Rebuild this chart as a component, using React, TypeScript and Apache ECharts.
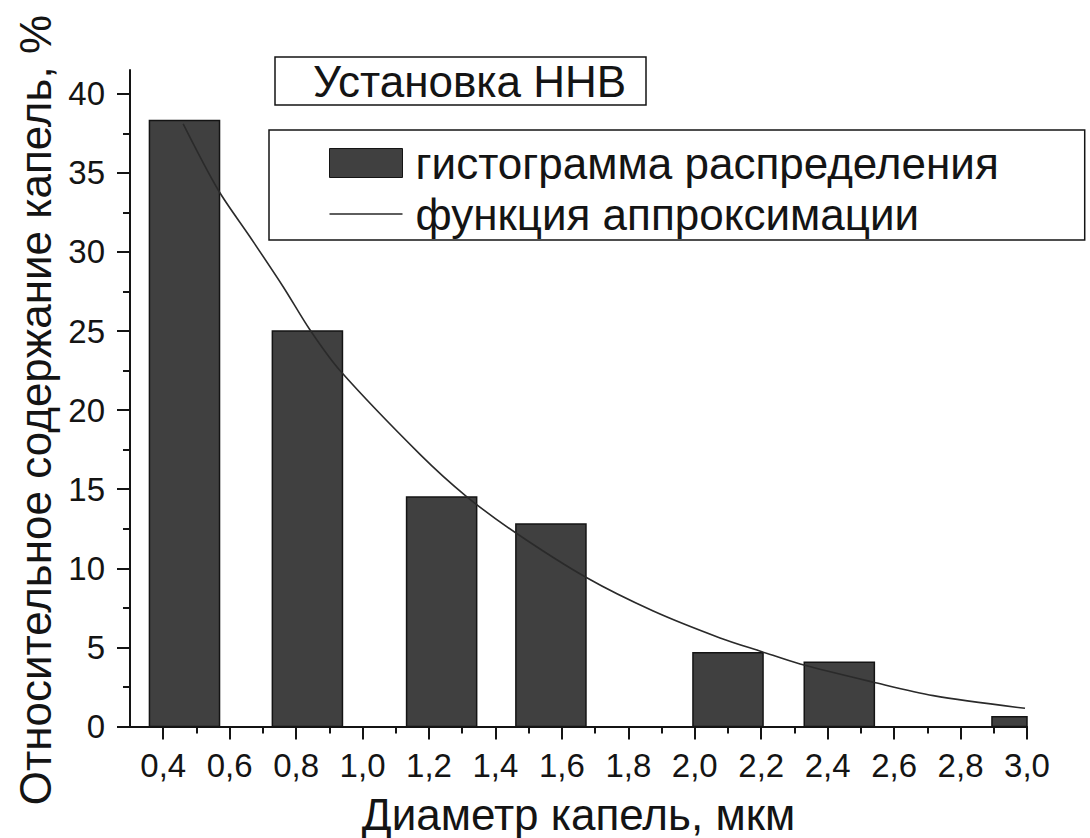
import { useEffect, useRef } from "react";
import * as echarts from "echarts";

// Histogram of droplet diameters (bin centres, µm) and their relative share (%)
const binCenters = [0.464, 0.834, 1.238, 1.567, 2.1, 2.435, 3.0];
const binWidth = 0.211;
const shares = [38.3, 25.0, 14.5, 12.8, 4.66, 4.06, 0.62];

// Approximating function, sampled along the diameter axis
const fitX = [0.46, 0.566, 0.661, 0.761, 0.842, 0.932, 1.173, 1.314, 1.464, 1.675, 1.875, 2.076, 2.202, 2.317, 2.538, 2.718, 2.994];
const fitY = [38.1, 33.9, 30.96, 27.8, 25.06, 22.5, 17.2, 14.52, 12.2, 9.4, 7.3, 5.6, 4.73, 3.95, 2.8, 1.95, 1.15];

const xTickStep = 0.2;
const yTickStep = 5;

const histName = "гистограмма распределения";
const fitName = "функция аппроксимации";

const FONT = "'Liberation Sans', Arial, sans-serif";
const INK = "#141414";

// Thin horizontal stroke used as the legend mark of the fitted curve
// (two invisible specks fix the bounding box so the stroke is not stretched)
const LINE_ICON = "path://M0,0h0.01v0.01h-0.01z M73,29h-0.01v-0.01h0.01z M0,13.7h73v1.6h-73z";

// Plot frame in pixels
const W = 1090;
const H = 838;
const PLOT_L = 130;
const PLOT_R = 1027;
const PLOT_T = 70;
const PLOT_B = 726.5;
const X_MIN = 0.3;
const X_MAX = 3.0;
const Y_MAX = 41.5;
const TICK_X_MIN = 0.4;
const TICK_Y_MAX = 40;

export default function App() {
  const ref = useRef<HTMLDivElement>(null);

  useEffect(() => {
    if (!ref.current) return;
    const chart = echarts.init(ref.current, null, { renderer: "svg" });

    const pxPerX = (PLOT_R - PLOT_L) / (X_MAX - X_MIN);
    const pxPerY = (PLOT_B - PLOT_T) / Y_MAX;
    const tickGridLeft = PLOT_L + (TICK_X_MIN - X_MIN) * pxPerX;
    const tickGridTop = PLOT_B - TICK_Y_MAX * pxPerY;

    const bins = binCenters.map((c, i) => [c - binWidth / 2, c + binWidth / 2, shares[i]]);
    const fit = fitX.map((x, i) => [x, fitY[i]]);

    chart.setOption({
      animation: false,
      backgroundColor: "#ffffff",
      textStyle: { fontFamily: FONT, color: INK },
      title: {
        text: "Установка ННВ",
        left: 275,
        top: 57,
        padding: [2, 20, 2, 38],
        borderColor: INK,
        borderWidth: 1.5,
        textStyle: { fontSize: 44, fontWeight: "normal", lineHeight: 44, color: INK, fontFamily: FONT },
      },
      legend: {
        orient: "vertical",
        left: 269,
        top: 130,
        padding: [9, 86, 2, 60],
        itemGap: 3,
        itemWidth: 73,
        itemHeight: 29,
        borderColor: INK,
        borderWidth: 1.5,
        textStyle: { fontSize: 44, lineHeight: 48, color: INK, fontFamily: FONT, padding: [0, 0, 0, 8] },
        data: [
          { name: histName, icon: "rect", itemStyle: { color: "#404040", borderColor: INK, borderWidth: 1 } },
          { name: fitName, icon: LINE_ICON, itemStyle: { color: "#2a2a2a", borderWidth: 0 } },
        ],
      },
      grid: [
        { left: PLOT_L, right: W - PLOT_R, top: PLOT_T, bottom: H - PLOT_B, outerBoundsMode: "none", containLabel: false },
        { left: tickGridLeft, right: W - PLOT_R, top: tickGridTop, bottom: H - PLOT_B, outerBoundsMode: "none", containLabel: false },
      ],
      xAxis: [
        {
          type: "value",
          gridIndex: 0,
          min: X_MIN,
          max: X_MAX,
          axisLine: { show: true, lineStyle: { color: INK, width: 2 } },
          axisTick: { show: false },
          axisLabel: { show: false },
          splitLine: { show: false },
          name: "Диаметр капель, мкм",
          nameLocation: "middle",
          nameGap: 66,
          nameTextStyle: { fontSize: 44, color: INK, fontFamily: FONT },
        },
        {
          type: "value",
          gridIndex: 1,
          min: TICK_X_MIN,
          max: X_MAX,
          interval: xTickStep,
          axisLine: { show: false },
          axisTick: { show: true, length: 13, lineStyle: { color: INK, width: 2 } },
          minorTick: { show: true, splitNumber: 2, length: 7, lineStyle: { color: INK, width: 2 } },
          axisLabel: {
            fontSize: 33,
            color: INK,
            margin: 22,
            fontFamily: FONT,
            formatter: (v: number) => v.toFixed(1).replace(".", ","),
          },
          splitLine: { show: false },
        },
      ],
      yAxis: [
        {
          type: "value",
          gridIndex: 0,
          min: 0,
          max: Y_MAX,
          axisLine: { show: true, lineStyle: { color: INK, width: 2 } },
          axisTick: { show: false },
          axisLabel: { show: false },
          splitLine: { show: false },
        },
        {
          type: "value",
          gridIndex: 1,
          min: 0,
          max: TICK_Y_MAX,
          interval: yTickStep,
          offset: tickGridLeft - PLOT_L,
          axisLine: { show: false },
          axisTick: { show: true, length: 13, lineStyle: { color: INK, width: 2 } },
          minorTick: { show: true, splitNumber: 2, length: 7, lineStyle: { color: INK, width: 2 } },
          axisLabel: { fontSize: 33, color: INK, margin: 25, fontFamily: FONT },
          splitLine: { show: false },
          name: "Относительное содержание капель, %",
          nameLocation: "middle",
          nameGap: 70,
          nameRotate: 90,
          nameTextStyle: { fontSize: 44, color: INK, fontFamily: FONT },
        },
      ],
      series: [
        {
          name: histName,
          type: "custom",
          xAxisIndex: 0,
          yAxisIndex: 0,
          data: bins,
          encode: { x: [0, 1], y: 2 },
          renderItem: (params: any, api: any) => {
            const cs = params.coordSys;
            const top = api.coord([api.value(0), api.value(2)]);
            const base = api.coord([api.value(1), 0]);
            const right = Math.min(base[0], cs.x + cs.width);
            return {
              type: "rect",
              shape: { x: top[0], y: top[1], width: right - top[0], height: base[1] - top[1] },
              style: { fill: "#404040", stroke: INK, lineWidth: 1.5 },
            };
          },
          itemStyle: { color: "#404040" },
          z: 2,
        },
        {
          name: fitName,
          type: "line",
          xAxisIndex: 0,
          yAxisIndex: 0,
          data: fit,
          smooth: 0.3,
          symbol: "none",
          lineStyle: { color: "#2a2a2a", width: 1.6 },
          itemStyle: { color: "#2a2a2a" },
          z: 3,
        },
      ],
    });

    return () => chart.dispose();
  }, []);

  return (
    <div
      ref={ref}
      style={{ position: "fixed", left: 0, top: 0, width: W, height: H, background: "#fff" }}
    />
  );
}
